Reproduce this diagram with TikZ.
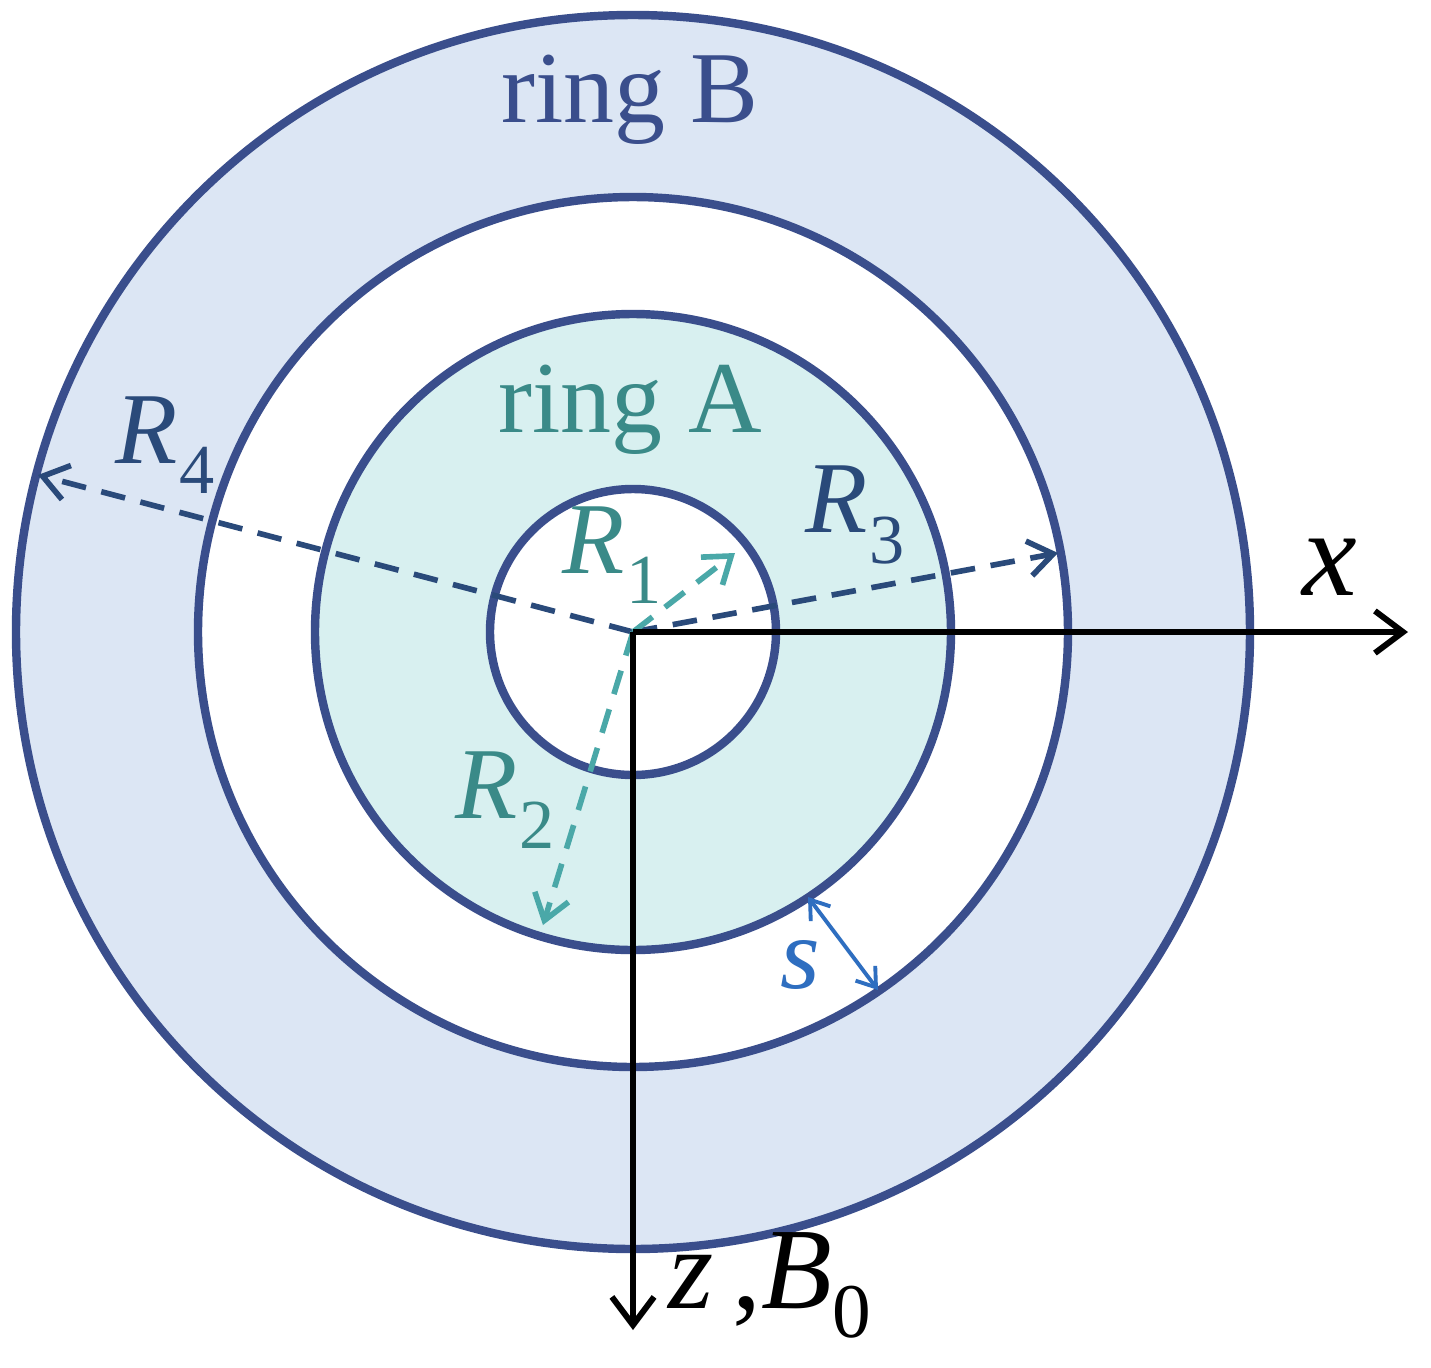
\documentclass[tikz,border=0pt]{standalone}
\usepackage{fontspec}
\setmainfont{Liberation Serif}
\usetikzlibrary{arrows.meta}
\definecolor{ringline}{HTML}{3A4E8C}
\definecolor{fillB}{HTML}{DCE6F4}
\definecolor{fillA}{HTML}{D8F0F0}
\definecolor{tealtxt}{HTML}{3A8A88}
\definecolor{tealarr}{HTML}{4AA8A8}
\definecolor{darkdash}{HTML}{2A4A7A}
\definecolor{sblue}{HTML}{2E6EC0}
\newcommand{\Rsub}[1]{\textit{R}\kern0.02em\raisebox{-0.3em}{\fontsize{40}{44}\selectfont #1}}
\begin{document}
\begin{tikzpicture}[x=0.02cm,y=-0.02cm,
  ring/.style={draw=ringline,line width=4.8pt},
  lbl/.style={font=\fontsize{58}{64}\selectfont,inner sep=0},
  dd/.style={dashed,dash pattern=on 14pt off 9pt,line width=3.2pt,-{Straight Barb[length=14pt,width=20pt]}},
  ax/.style={line width=3.4pt,black,-{Straight Barb[length=16pt,width=24pt]}}]
\useasboundingbox (0,0) rectangle (1431,1367);
\coordinate (O) at (633,632);
\fill[fillB] (O) circle (617);
\fill[white] (O) circle (435);
\fill[fillA] (O) circle (318);
\fill[white] (O) circle (143);
\draw[ring] (O) circle (617);
\draw[ring] (O) circle (435);
\draw[ring] (O) circle (318);
\draw[ring] (O) circle (143);
\node[lbl,text=ringline] (rB) at (630,100) {ring B};
\node[lbl,text=tealtxt] (rA) at (630,410) {ring A};
\coordinate (e4) at (38,475);
\coordinate (e3) at (1058,553);
\coordinate (e1) at (735,553);
\coordinate (e2) at (543,925);
\draw[dd,darkdash] (O) -- (e4);
\draw[dd,darkdash] (O) -- (e3);
\draw[dd,tealarr] (O) -- (e1);
\draw[dd,tealarr] (O) -- (e2);
\coordinate (s1) at (808,897);
\coordinate (s2) at (878,990);
\draw[sblue,line width=2.2pt,{Straight Barb[length=10pt,width=14pt]}-{Straight Barb[length=10pt,width=14pt]}] (s1) -- (s2);
\coordinate (xe) at (1408,632);
\coordinate (ze) at (633,1330);
\draw[ax] (O) -- (xe);
\draw[ax] (O) -- (ze);
\node[lbl,text=darkdash] (L4) at (165,445) {\Rsub{4}};
\node[lbl,text=darkdash] (L3) at (855,515) {\Rsub{3}};
\node[lbl,text=tealtxt] (L1) at (612,555) {\Rsub{1}};
\node[lbl,text=tealtxt] (L2) at (505,800) {\Rsub{2}};
\node[lbl,text=sblue] (Ls) at (800,965) {\textit{s}};
\node[lbl,text=black,font=\fontsize{70}{76}\selectfont] (Lx) at (1330,567) {\textit{x}};
\node[lbl,text=black,anchor=west,font=\fontsize{66}{72}\selectfont] (Lz) at (668,1285) {\textit{z}\,,\textit{B}\raisebox{-0.25em}{\fontsize{44}{48}\selectfont 0}};
\end{tikzpicture}
\end{document}
